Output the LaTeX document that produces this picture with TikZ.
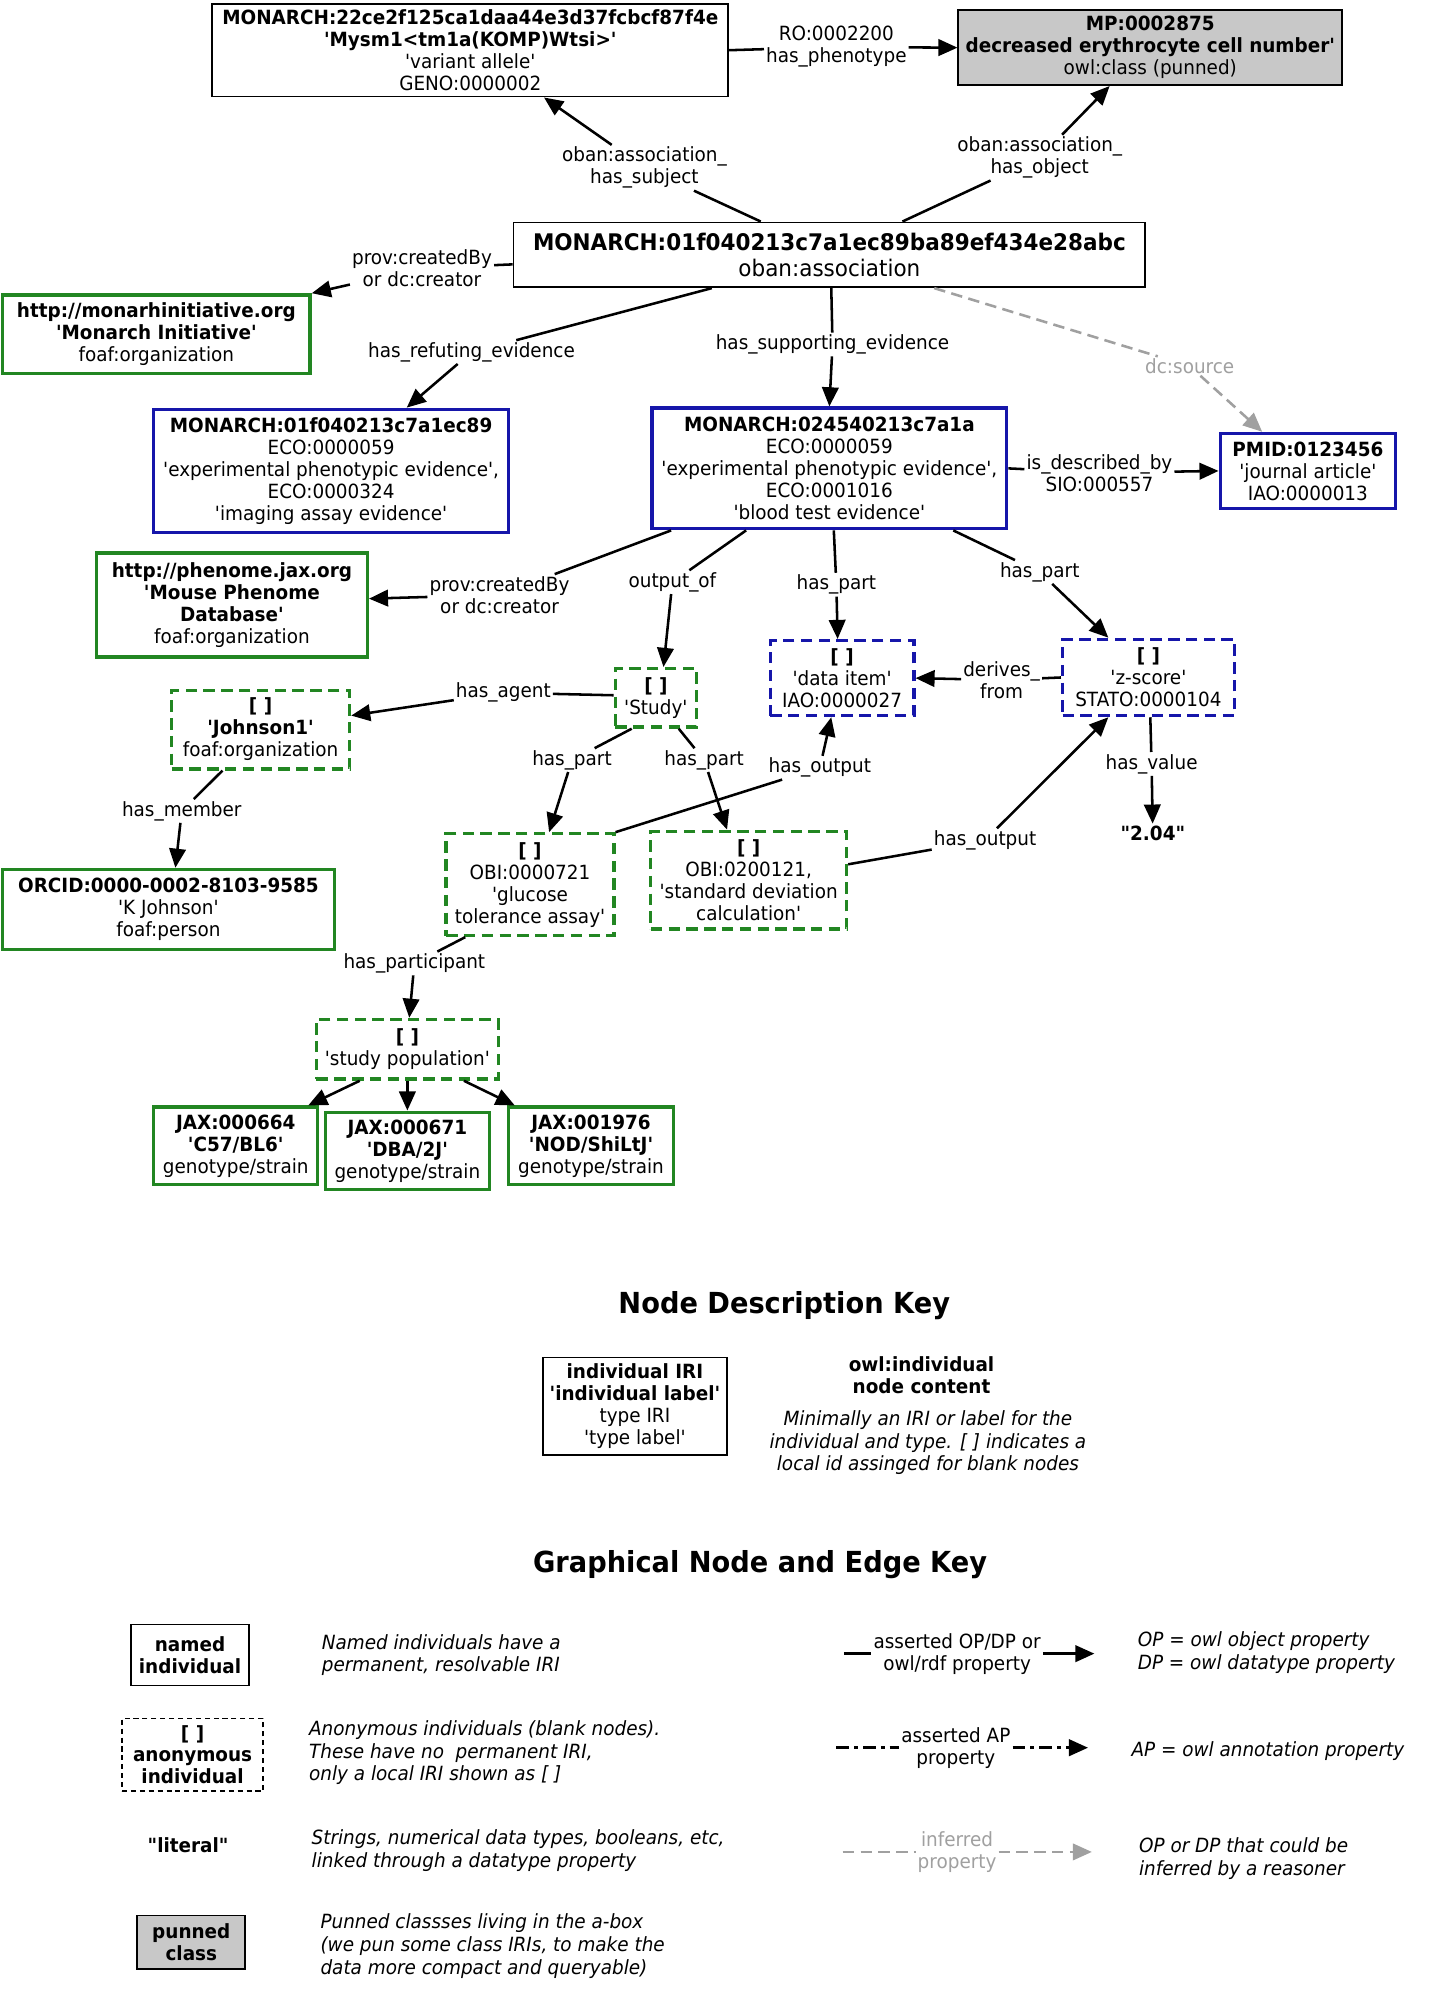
\documentclass[tikz,border=0pt]{standalone}
\usepackage{fontspec}
\newfontfamily\dvs{DejaVu Sans}[FakeStretch=0.94]
\usetikzlibrary{arrows.meta}
\definecolor{ogreen}{RGB}{34,134,34}
\definecolor{oblue}{RGB}{22,22,170}
\definecolor{pungray}{RGB}{200,200,200}
\definecolor{infgray}{RGB}{160,160,160}
\begin{document}
\begin{tikzpicture}[x=1pt,y=-1pt,
 txt/.style={font=\dvs\fontsize{15.4}{17.3}\selectfont, align=center},
 box/.style={txt, inner sep=0pt, draw},
 nblack/.style={box, line width=1.4pt},
 ngreen/.style={box, draw=ogreen, line width=2.6pt},
 nblue/.style={box, draw=oblue, line width=2.6pt},
 agreen/.style={ngreen, dash pattern=on 9pt off 5pt},
 ablue/.style={nblue, dash pattern=on 9pt off 5pt},
 punbox/.style={nblack, fill=pungray},
 lbl/.style={txt, inner sep=1.5pt},
 desc/.style={txt, font=\dvs\itshape\fontsize{15.4}{17.8}\selectfont, align=left, anchor=west, inner sep=0pt},
 edge/.style={line width=2pt, draw=black},
 arr/.style={edge, -{Triangle[length=15pt,width=13pt]}},
 inf/.style={line width=2pt, draw=infgray, dash pattern=on 9pt off 5pt},
 infarr/.style={inf, -{Triangle[length=15pt,width=13pt]}},
 sz/.style 2 args={minimum width=#1pt, minimum height=#2pt},
 title/.style={txt, font=\dvs\bfseries\fontsize{22.8}{26}\selectfont},
]
\fill[white] (0,0) rectangle (1127,1568);
\useasboundingbox (0,0) rectangle (1127,1568);

% ---------- nodes ----------
\node[nblack, sz={406}{73}] (allele) at (370,39.5) {\textbf{MONARCH:22ce2f125ca1daa44e3d37fcbcf87f4e}\\\textbf{'Mysm1<tm1a(KOMP)Wtsi>'}\\'variant allele'\\GENO:0000002};
\node[punbox, sz={302}{59}] (pheno) at (905,37.5) {\textbf{MP:0002875}\\\textbf{decreased erythrocyte cell number'}\\owl:class (punned)};
\node[nblack, sz={497}{51}, font=\dvs\fontsize{18}{21}\selectfont] (assoc) at (652.5,200.5) {\textbf{MONARCH:01f040213c7a1ec89ba89ef434e28abc}\\oban:association};
\node[ngreen, sz={242}{62}] (mi) at (123,263) {\textbf{http://monarhinitiative.org}\\\textbf{'Monarch Initiative'}\\foaf:organization};
\node[nblue, sz={279}{97}] (refute) at (260.5,370.5) {\textbf{MONARCH:01f040213c7a1ec89}\\ECO:0000059\\'experimental phenotypic evidence',\\ECO:0000324\\'imaging assay evidence'};
\node[nblue, sz={279}{95}] (support) at (652.5,368.5) {\textbf{MONARCH:024540213c7a1a}\\ECO:0000059\\'experimental phenotypic evidence',\\ECO:0001016\\'blood test evidence'};
\node[nblue, sz={138}{59}] (pmid) at (1029,370.5) {\textbf{PMID:0123456}\\'journal article'\\IAO:0000013};
\node[ngreen, sz={213}{82}] (mpd) at (182.5,476) {\textbf{http://phenome.jax.org}\\\textbf{'Mouse Phenome}\\\textbf{Database'}\\foaf:organization};
\node[agreen, sz={64}{46}] (study) at (516,549) {\textbf{[ ]}\\'Study'};
\node[ablue, sz={113}{59}] (data) at (662.5,533.5) {\textbf{[ ]}\\'data item'\\IAO:0000027};
\node[ablue, sz={135}{60}] (zscore) at (903.5,533) {\textbf{[ ]}\\'z-score'\\STATO:0000104};
\node[txt, inner sep=2pt] (lit) at (907,656) {\textbf{"2.04"}};
\node[agreen, sz={140}{62}] (johnson) at (205,574) {\textbf{[ ]}\\\textbf{'Johnson1'}\\foaf:organization};
\node[ngreen, sz={261}{63}] (orcid) at (132.5,715.5) {\textbf{ORCID:0000-0002-8103-9585}\\'K Johnson'\\foaf:person};
\node[agreen, sz={132}{80}] (glucose) at (417,696) {\textbf{[ ]}\\OBI:0000721\\'glucose\\tolerance assay'};
\node[agreen, sz={154}{77}] (sd) at (589,692.5) {\textbf{[ ]}\\OBI:0200121,\\'standard deviation\\calculation'};
\node[agreen, sz={143}{47}] (pop) at (320.5,825.5) {\textbf{[ ]}\\'study population'};
\node[ngreen, sz={129}{61}] (jax1) at (185.5,901.5) {\textbf{JAX:000664}\\\textbf{'C57/BL6'}\\genotype/strain};
\node[ngreen, sz={129}{61}] (jax2) at (320.5,905.5) {\textbf{JAX:000671}\\\textbf{'DBA/2J'}\\genotype/strain};
\node[ngreen, sz={130}{61}] (jax3) at (465,901.5) {\textbf{JAX:001976}\\\textbf{'NOD/ShiLtJ'}\\genotype/strain};

% ---------- edge labels ----------
\node[lbl] (lRO) at (658,37) {RO:0002200\\has\_phenotype};
\node[lbl] (lsubj) at (507,132) {oban:association\_\\has\_subject};
\node[lbl] (lobj) at (818,124) {oban:association\_\\has\_object};
\node[lbl] (lcr1) at (332,211) {prov:createdBy\\or dc:creator};
\node[lbl] (lref) at (371,277) {has\_refuting\_evidence};
\node[lbl] (lsup) at (655,271) {has\_supporting\_evidence};
\node[lbl, text=infgray] (lsrc) at (936,288) {dc:source};
\node[lbl] (ldesc) at (865,372) {is\_described\_by\\SIO:000557};
\node[lbl] (lcr2) at (393,468) {prov:createdBy\\or dc:creator};
\node[lbl] (lout) at (529,458) {output\_of};
\node[lbl] (lhp1) at (658,460) {has\_part};
\node[lbl] (lhp2) at (818,450) {has\_part};
\node[lbl] (lder) at (788,535) {derives\_\\from};
\node[lbl] (lval) at (906,601) {has\_value};
\node[lbl] (lagent) at (396,545) {has\_agent};
\node[lbl] (lmem) at (143,638) {has\_member};
\node[lbl] (lhp3) at (450,598) {has\_part};
\node[lbl] (lhp4) at (554,598) {has\_part};
\node[lbl] (lout1) at (645,604) {has\_output};
\node[lbl] (lout2) at (775,661) {has\_output};
\node[lbl] (lpart) at (326,758) {has\_participant};

% ---------- edges ----------
\draw[edge] (allele.east) -- (lRO); \draw[arr] (lRO) -- (pheno.west);
\draw[edge] ([xshift=-54pt]assoc.north) -- (lsubj); \draw[arr] (lsubj) -- ([xshift=58pt]allele.south);
\draw[edge] ([xshift=57.5pt]assoc.north) -- (lobj); \draw[arr] (lobj) -- ([xshift=-32pt]pheno.south);
\draw[edge] ([yshift=-7.5pt]assoc.west) -- (lcr1); \draw[arr] (lcr1) -- (mi.north east);
\draw[edge] ([xshift=-92.5pt]assoc.south) -- (lref); \draw[arr] (lref) -- ([xshift=59.5pt]refute.north);
\draw[edge] ([xshift=1.5pt]assoc.south) -- (lsup); \draw[arr] (lsup) -- (support.north);
\draw[inf] ([xshift=82.5pt]assoc.south) -- (lsrc); \draw[infarr] (lsrc) -- ([xshift=-36pt]pmid.north);
\draw[edge] (support.east) -- (ldesc); \draw[arr] (ldesc) -- (pmid.west);
\draw[edge] ([xshift=-124.5pt]support.south) -- (lcr2); \draw[arr] (lcr2) -- ([yshift=5pt]mpd.east);
\draw[edge] ([xshift=-65.5pt]support.south) -- (lout); \draw[arr] (lout) -- ([xshift=6pt]study.north);
\draw[edge] ([xshift=3.5pt]support.south) -- (lhp1); \draw[arr] (lhp1) -- ([xshift=-3.5pt]data.north);
\draw[edge] ([xshift=97.5pt]support.south) -- (lhp2); \draw[arr] (lhp2) -- ([xshift=-31.5pt]zscore.north);
\draw[edge] (zscore.west) -- (lder); \draw[arr] (lder) -- (data.east);
\draw[edge] ([xshift=1.5pt]zscore.south) -- (lval); \draw[arr] (lval) -- (lit);
\draw[edge] ([yshift=2pt]study.west) -- (lagent); \draw[arr] (lagent) -- ([yshift=11pt]johnson.east);
\draw[edge] ([xshift=-30pt]johnson.south) -- (lmem); \draw[arr] (lmem) -- ([xshift=5.5pt]orcid.north);
\draw[edge] ([xshift=-19pt]study.south) -- (lhp3); \draw[arr] (lhp3) -- ([xshift=15pt]glucose.north);
\draw[edge] ([xshift=18pt]study.south) -- (lhp4); \draw[arr] (lhp4) -- ([xshift=-17pt]sd.north);
\draw[edge] (glucose.north east) -- (lout1); \draw[arr] (lout1) -- ([xshift=-8.5pt]data.south);
\draw[edge] ([yshift=12.5pt]sd.east) -- (lout2); \draw[arr] (lout2) -- ([xshift=-31.5pt]zscore.south);
\draw[edge] ([xshift=-51pt]glucose.south) -- (lpart); \draw[arr] (lpart) -- ([xshift=1.5pt]pop.north);
\draw[arr] ([xshift=-37.5pt]pop.south) -- ([xshift=57pt]jax1.north);
\draw[arr] (pop.south) -- (jax2.north);
\draw[arr] ([xshift=44.5pt]pop.south) -- ([xshift=-60pt]jax3.north);

% ---------- node description key ----------
\node[title] (t1) at (617,1027) {Node Description Key};
\node[nblack, sz={145}{77}] (keybox) at (499.5,1106.5) {\textbf{individual IRI}\\\textbf{'individual label'}\\type IRI\\'type label'};
\node[txt, font=\dvs\bfseries\fontsize{15.4}{17.3}\selectfont] (owl) at (725,1082) {owl:individual\\node content};
\node[txt, font=\dvs\itshape\fontsize{15.4}{17.8}\selectfont] (owldesc) at (730,1135) {Minimally an IRI or label for the\\individual and type. [ ] indicates a\\local id assinged for blank nodes};

% ---------- graphical key ----------
\node[title] (t2) at (598,1231) {Graphical Node and Edge Key};
\node[nblack, sz={93}{48}] (knamed) at (149.5,1302) {\textbf{named}\\\textbf{individual}};
\node[desc] (dnamed) at (253,1302) {Named individuals have a\\permanent, resolvable IRI};
\node[box, line width=1pt, dash pattern=on 4pt off 3pt, sz={111}{57}] (kanon) at (151.5,1380.5) {\textbf{[ ]}\\\textbf{anonymous}\\\textbf{individual}};
\node[desc] (danon) at (243,1379) {Anonymous individuals (blank nodes).\\These have no\ \ permanent IRI,\\only a local IRI shown as [ ]};
\node[txt] (klit) at (148,1452) {\textbf{"literal"}};
\node[desc] (dlit) at (245,1456) {Strings, numerical data types, booleans, etc,\\linked through a datatype property};
\node[punbox, sz={85}{42}] (kpun) at (150.5,1528) {\textbf{punned}\\\textbf{class}};
\node[desc] (dpun) at (252,1531) {Punned classses living in the a-box\\(we pun some class IRIs, to make the\\data more compact and queryable)};

\coordinate (k1s) at (664,1301);
\node[lbl] (k1l) at (753,1301) {asserted OP/DP or\\owl/rdf property};
\coordinate (k1e) at (861,1301);
\draw[edge] (k1s) -- (k1l); \draw[arr] (k1l) -- (k1e);

\coordinate (k2s) at (658,1375);
\node[lbl] (k2l) at (752,1375) {asserted AP\\property};
\coordinate (k2e) at (856,1375);
\draw[edge, dash pattern=on 10pt off 4pt on 3pt off 4pt] (k2s) -- (k2l);
\draw[arr, dash pattern=on 10pt off 4pt on 3pt off 4pt] (k2l) -- (k2e);

\coordinate (k3s) at (663,1457);
\node[lbl, text=infgray] (k3l) at (753,1457) {inferred\\property};
\coordinate (k3e) at (859,1457);
\draw[inf] (k3s) -- (k3l); \draw[infarr] (k3l) -- (k3e);

\node[desc] (dop) at (895,1300) {OP = owl object property\\DP = owl datatype property};
\node[desc] (dap) at (890,1378) {AP = owl annotation property};
\node[desc] (dinf) at (896,1462) {OP or DP that could be\\inferred by a reasoner};
\end{tikzpicture}
\end{document}
